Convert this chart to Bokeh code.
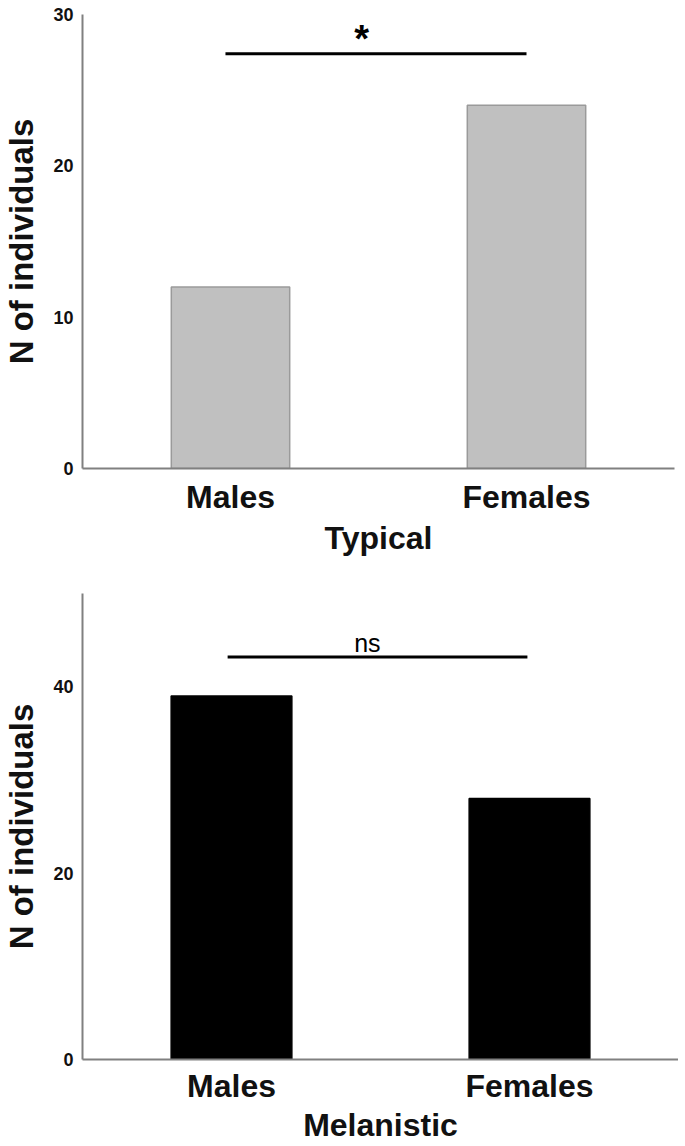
from bokeh.plotting import figure
from bokeh.layouts import column
from bokeh.models import Range1d, FactorRange, FixedTicker, ColumnDataSource
from bokeh.core.properties import value
from bokeh.embed import file_html
from bokeh.resources import INLINE

# ---- data ----
categories = ["Males", "Females"]
typical_counts = [12, 24]
melanistic_counts = [39, 28]
typical_ticks = [0, 10, 20, 30]
melanistic_ticks = [0, 20, 40]
typical_ymax = 30
melanistic_ymax = 50
panel_labels = ["Typical", "Melanistic"]
sig_labels = ["*", "ns"]
sig_heights = [27.4, 43.2]
y_label = "N of individuals"

FONT = "Liberation Sans"


def make_panel(counts, ymax, yticks, xlabel, sig_text, sig_h, fill, line,
               frame_w, frame_h, b_top, b_right, b_bottom,
               sig_x0, sig_x1, txt_x, txt_dy, txt_size, txt_style, bar_w,
               lab_stand, ax_stand):
    p = figure(x_range=FactorRange(factors=categories, range_padding=0),
               y_range=Range1d(0, ymax),
               frame_width=frame_w, frame_height=frame_h,
               min_border_left=73, min_border_right=b_right,
               min_border_top=b_top, min_border_bottom=b_bottom,
               output_backend="svg", toolbar_location=None)
    p.outline_line_color = None
    p.xgrid.grid_line_color = None
    p.ygrid.grid_line_color = None
    p.background_fill_color = "white"
    p.border_fill_color = "white"

    src = ColumnDataSource(dict(cat=categories, n=counts))
    p.vbar(x="cat", top="n", bottom=0, width=bar_w, source=src,
           fill_color=fill, line_color=line, line_width=1.5)

    # significance bar
    p.segment(x0=[sig_x0], x1=[sig_x1], y0=[sig_h], y1=[sig_h],
              line_color="black", line_width=3)
    p.text(x=[txt_x], y=[sig_h + txt_dy], text=[sig_text],
           text_font=value(FONT), text_font_size=txt_size,
           text_font_style=txt_style, text_align="center",
           text_baseline="alphabetic", text_color="black")

    for ax in (p.xaxis[0], p.yaxis[0]):
        ax.axis_line_color = "#808080"
        ax.axis_line_width = 2
        ax.major_tick_line_color = None
        ax.minor_tick_line_color = None
        ax.major_tick_out = 0
        ax.major_tick_in = 0
        ax.major_label_text_font = FONT
        ax.axis_label_text_font = FONT
        ax.major_label_text_font_style = "bold"
        ax.axis_label_text_font_style = "bold"
        ax.major_label_text_color = "#111111"
        ax.axis_label_text_color = "#111111"

    xa = p.xaxis[0]
    xa.axis_label = xlabel
    xa.major_label_text_font_size = "32px"
    xa.axis_label_text_font_size = "32px"
    xa.major_label_standoff = lab_stand
    xa.axis_label_standoff = ax_stand

    ya = p.yaxis[0]
    ya.axis_label = y_label
    ya.ticker = FixedTicker(ticks=yticks)
    ya.major_label_text_font_size = "18px"
    ya.axis_label_text_font_size = "33px"
    ya.major_label_standoff = 9
    ya.axis_label_standoff = 10
    return p


p1 = make_panel(typical_counts, typical_ymax, typical_ticks, panel_labels[0],
                sig_labels[0], sig_heights[0], "#c0c0c0", "#9a9a9a",
                frame_w=592, frame_h=454, b_top=14, b_right=4, b_bottom=115,
                sig_x0=0.483, sig_x1=1.5, txt_x=0.943, txt_dy=1.0,
                txt_size="38px", txt_style="bold", bar_w=0.4,
                lab_stand=10, ax_stand=2)

p2 = make_panel(melanistic_counts, melanistic_ymax, melanistic_ticks, panel_labels[1],
                sig_labels[1], sig_heights[1], "black", "black",
                frame_w=596, frame_h=466, b_top=10, b_right=0, b_bottom=77,
                sig_x0=0.487, sig_x1=1.493, txt_x=0.956, txt_dy=1.45,
                txt_size="25px", txt_style="normal", bar_w=0.405,
                lab_stand=8, ax_stand=0)

layout = column(p1, p2, spacing=0)
open("out.html", "w").write(file_html(layout, INLINE))
